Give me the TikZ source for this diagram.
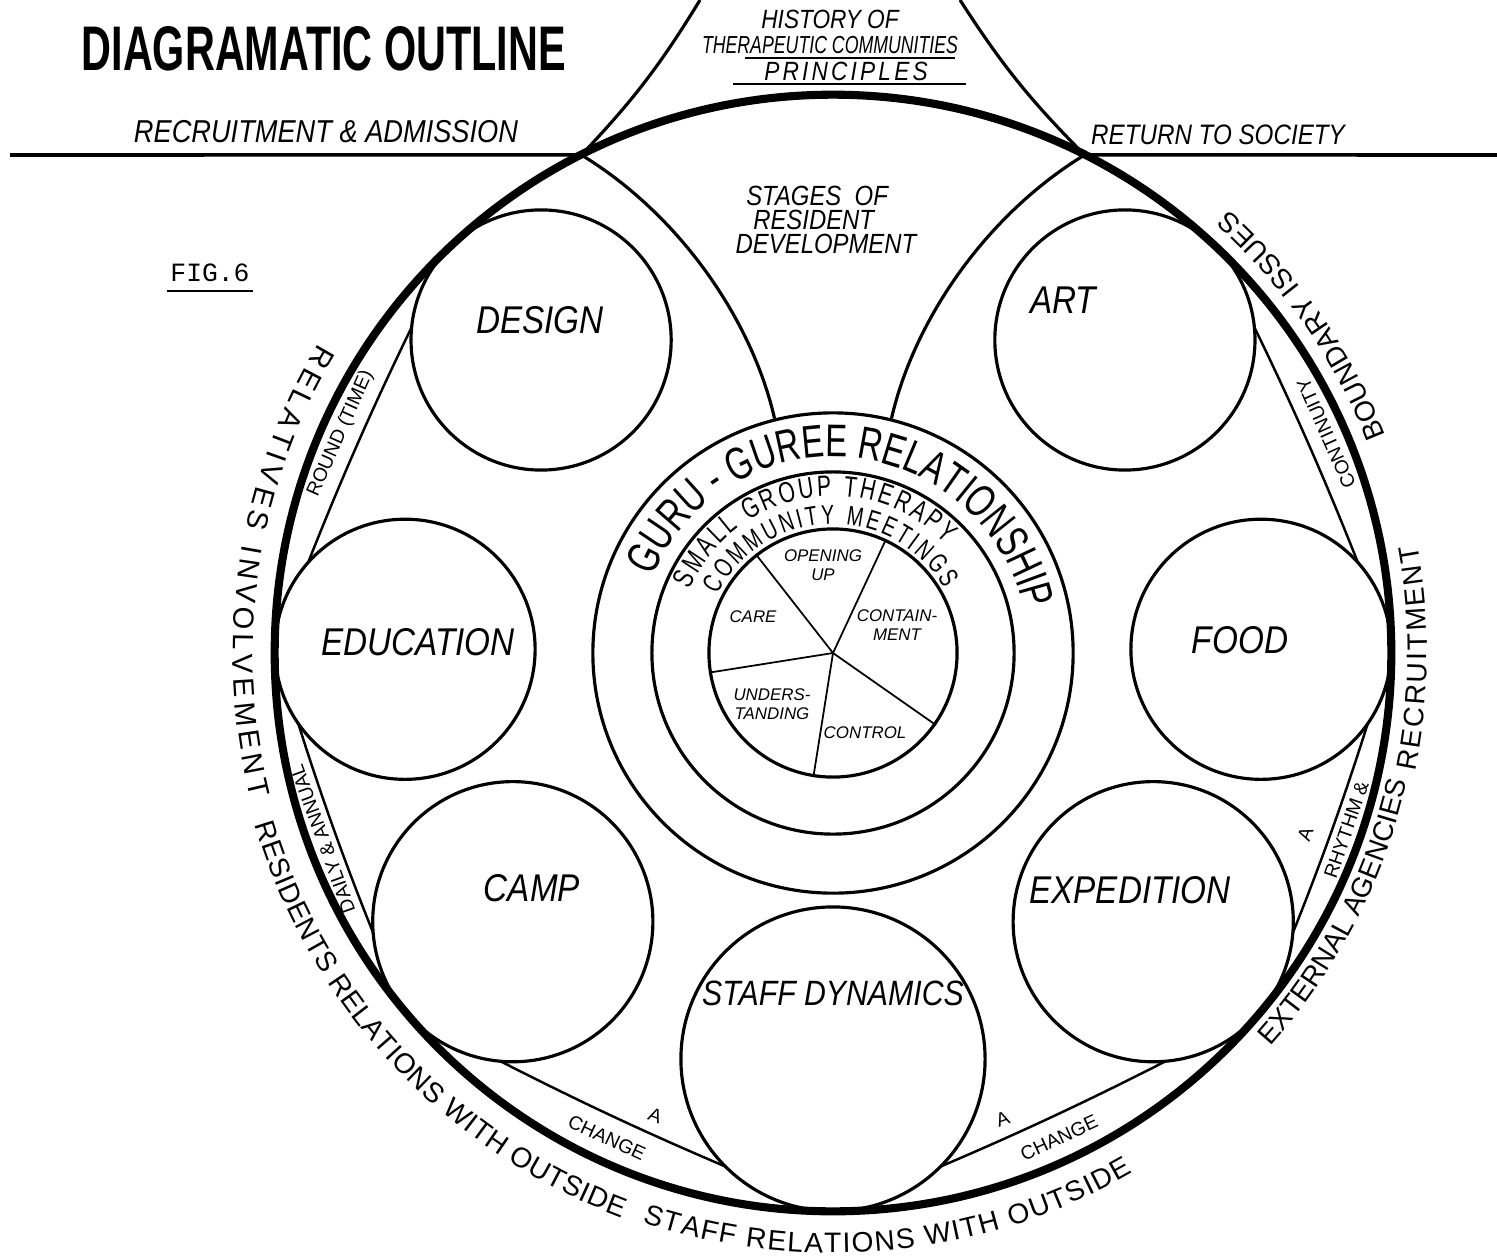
\documentclass[tikz,border=0pt]{standalone}
\usepackage{fontspec}
\setmainfont{Liberation Sans}
\newfontfamily\handfont{Liberation Sans}[FakeStretch=0.86]
\newfontfamily\ringfont{Liberation Sans}[FakeStretch=0.72]
\newfontfamily\typefont{Liberation Mono}
\usetikzlibrary{calc,decorations.text}

\begin{document}
\begin{tikzpicture}[
  x=0.01cm, y=0.01cm,
  every node/.style={inner sep=0pt},
  disc/.style={draw, fill=white, circle, line width=0.9pt, minimum size=#1},
  disc/.default=2.6cm,
  hoop/.style={draw, circle, line width=0.9pt},
  chord/.style={line width=0.7pt},
  hand/.style={font=\handfont\itshape\fontsize{#1}{#1}\selectfont},
  hand/.default=11,
  band/.style={font=\fontsize{5.5}{5.5}\selectfont},
  slice/.style={font=\itshape\fontsize{4.8}{5.4}\selectfont, align=center},
  ring text/.style={decorate, decoration={text along path,
      text align=fit to path, text={#1}}}
]
\useasboundingbox (0,0) rectangle (1497,-1257);

\node[anchor=south west] (title) at (81,-72)
  {\resizebox{4.84cm}{0.44cm}{\handfont\bfseries DIAGRAMATIC OUTLINE}};

\node[hand=7.5] (hist) at (830,-19) {HISTORY OF};
\node[font=\ringfont\itshape\fontsize{7}{7}\selectfont] (thera) at (830,-45) {THERAPEUTIC COMMUNITIES};
\node[font=\handfont\itshape\addfontfeatures{LetterSpace=12}\fontsize{7.5}{7.5}\selectfont]
  (princ) at (846,-71) {PRINCIPLES};
\draw[line width=0.6pt] (745,-58) -- (955,-58);
\draw[line width=0.6pt] (733,-84) -- (966,-84);

\node[hand=9] (recruit) at (326,-132) {RECRUITMENT \& ADMISSION};
\node[hand=8] (return) at (1218,-135) {RETURN TO SOCIETY};

\node[font=\typefont\fontsize{7.5}{7.5}\selectfont] (fig) at (210,-273) {FIG.6};
\draw[line width=0.6pt] ($(fig.south west)+(-3,-8)$) -- ($(fig.south east)+(3,-8)$);

\node[hand=7.9, align=left, anchor=north west] (stages) at (735,-185)
  {\hspace{3pt}STAGES\ \ OF\\[-1pt]\hspace{5pt}RESIDENT\\[-1pt]DEVELOPMENT};

\begin{scope}[shift={(833,-653)}]
  \coordinate (tD) at (133:558);
  \coordinate (tE) at (179.5:558);
  \coordinate (tC) at (220:558);
  \coordinate (tS) at (270:558);
  \coordinate (tX) at (320:558);
  \coordinate (tF) at (0.5:558);
  \coordinate (tA) at (47:558);
  \coordinate (xl) at (116.8:558);
  \coordinate (xr) at (63.2:558);
  \coordinate (topl) at (-133,653);
  \coordinate (topr) at (127,653);

  \draw[chord] (tD) to[bend right=3] (tE) to[bend right=3] (tC)
    to[bend right=3] (tS) to[bend right=3] (tX) to[bend right=3] (tF)
    to[bend right=3] (tA);

  \node[hoop, minimum size=4.8cm] (guru) at (0,0) {};
  \node[hoop, minimum size=3.62cm] (group) at (0,0) {};
  \node[hoop, minimum size=2.48cm] (pie) at (0,0) {};

  \node[disc] (design) at (133:428) {};
  \node[disc] (art) at (47:428) {};
  \node[disc] (educ) at (179.5:428) {};
  \node[disc] (food) at (0.5:428) {};
  \node[disc=2.8cm] (camp) at (220:418) {};
  \node[disc=2.8cm] (exped) at (320:418) {};
  \node[disc=3.04cm] (staff) at (270:406) {};

  \node[draw, circle, line width=2.3pt, minimum size=11.16cm] (rim) at (0,0) {};

  \node[hand] (designlbl) at (-293,333) {DESIGN};
  \node[hand] (artlbl) at (230,353) {ART};
  \node[hand] (educlbl) at (-415,11) {EDUCATION};
  \node[hand] (foodlbl) at (407,13) {FOOD};
  \node[hand] (camplbl) at (-301,-235) {CAMP};
  \node[hand] (expedlbl) at (297,-237) {EXPEDITION};
  \node[hand=10] (stafflbl) at (0,-340) {STAFF DYNAMICS};

  \draw[line width=0.9pt] (xl) .. controls (-153,438) and (-81,333) .. (guru.104);
  \draw[line width=0.9pt] (xr) .. controls (153,438) and (81,333) .. (guru.76);
  \draw[line width=0.9pt] (xl) to[bend right=6] (topl);
  \draw[line width=0.9pt] (xr) to[bend left=6] (topr);

  \foreach \a in {128,65,325,261,189}
    \draw[line width=0.5pt] (pie.center) -- (pie.\a);

  \node[slice] (opening) at (-10,88) {OPENING\\UP};
  \node[slice] (contain) at (64,28) {CONTAIN-\\MENT};
  \node[slice] (care) at (-80,36) {CARE};
  \node[slice] (underst) at (-61,-51) {UNDERS-\\TANDING};
  \node[slice] (control) at (32,-80) {CONTROL};

  \path[ring text={|\ringfont\fontsize{13}{13}\selectfont|GURU - GUREE RELATIONSHIP}]
    (157:196) arc[start angle=157, end angle=13, radius=196];
  \path[ring text={|\ringfont\fontsize{8.3}{8.3}\selectfont|SMALL GROUP THERAPY}]
    (156:157) arc[start angle=156, end angle=44, radius=157];
  \path[ring text={|\ringfont\fontsize{7.7}{7.7}\selectfont|COMMUNITY MEETINGS}]
    (153:129) arc[start angle=153, end angle=30, radius=129];

  \path[ring text={|\fontsize{8.3}{8.3}\selectfont|RELATIVES INVOLVEMENT}]
    (149:600) arc[start angle=149, end angle=194, radius=600];
  \path[ring text={|\fontsize{8}{8}\selectfont|RESIDENTS RELATIONS WITH OUTSIDE}]
    (196.5:603) arc[start angle=196.5, end angle=249.5, radius=603];
  \path[ring text={|\fontsize{8}{8}\selectfont|STAFF RELATIONS WITH OUTSIDE}]
    (251.5:600) arc[start angle=251.5, end angle=300, radius=600];
  \path[ring text={|\fontsize{8}{8}\selectfont|EXTERNAL AGENCIES}]
    (318:588) arc[start angle=318, end angle=347, radius=588];
  \path[ring text={|\fontsize{8}{8}\selectfont|RECRUITMENT}]
    (348.5:594) arc[start angle=348.5, end angle=370.5, radius=594];
  \path[ring text={|\fontsize{8}{8}\selectfont|BOUNDARY ISSUES}]
    (21.5:594) arc[start angle=21.5, end angle=48.2, radius=594];

  \node[band, rotate=66] (round) at (156:539) {ROUND (TIME)};
  \node[band, rotate=110] (daily) at (200:543) {DAILY \& ANNUAL};
  \node[band, rotate=335] (changel) at (245:535) {CHANGE};
  \node[band, rotate=339] (al) at (249:496) {A};
  \node[band, rotate=25] (changer) at (295:535) {CHANGE};
  \node[band, rotate=20] (ar) at (290:496) {A};
  \node[band, rotate=71] (rhythm) at (341:543) {RHYTHM \&};
  \node[band, rotate=70] (arh) at (339:506) {A};
  \node[band, rotate=114] (contin) at (24:540) {CONTINUITY};
\end{scope}

\draw[line width=1pt] (10,-155) -- (xl);
\draw[line width=1pt] (xr) -- (1497,-155);
\end{tikzpicture}
\end{document}
